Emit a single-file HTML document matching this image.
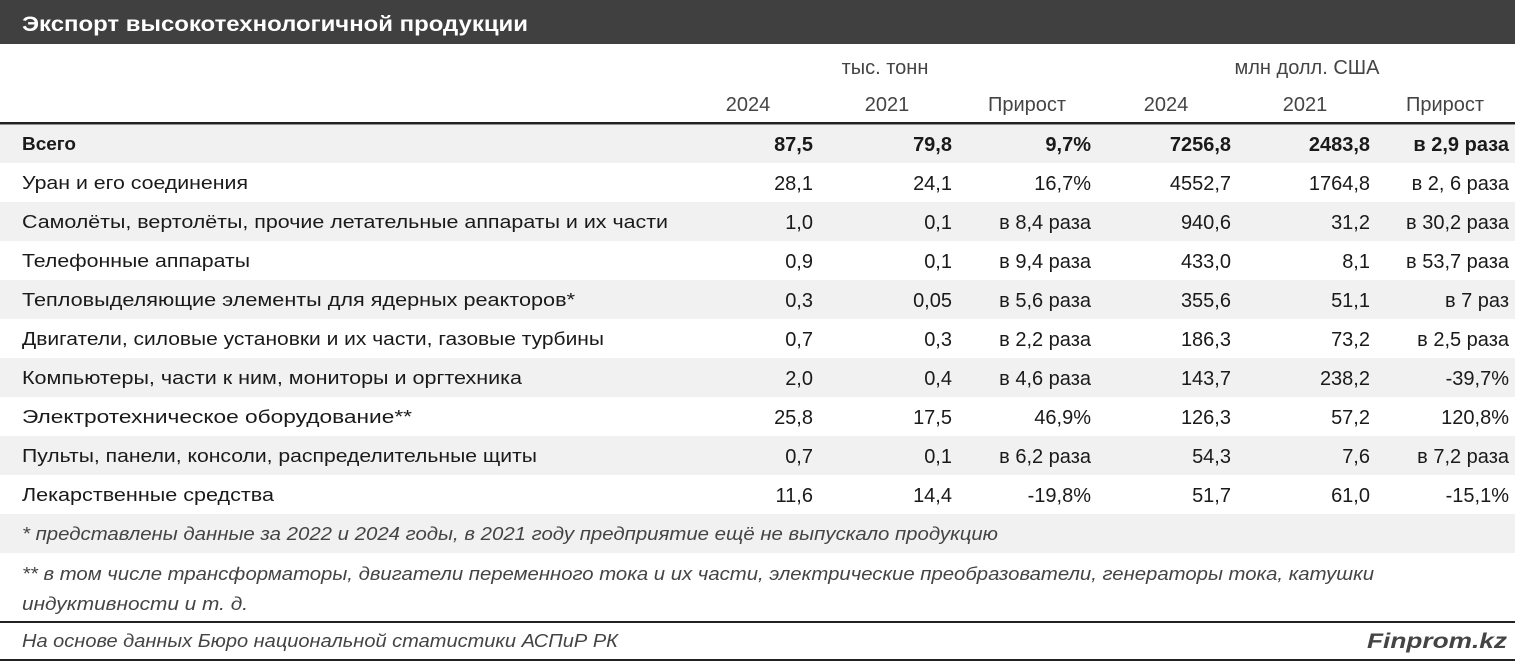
<!DOCTYPE html>
<html><head><meta charset="utf-8"><style>
html,body{margin:0;padding:0;background:#fff}
svg{display:block}
text{font-family:"Liberation Sans",sans-serif;font-size:20px;fill:#1a1a1a}
.b{font-weight:bold}
.i{font-style:italic;fill:#444;font-size:18px}
.h{fill:#444}
.r{text-anchor:end}
.c{text-anchor:middle}
.l{font-size:18px}
</style></head><body>
<svg width="1515" height="662" xmlns="http://www.w3.org/2000/svg">
<rect x="0" y="0" width="1515" height="44" fill="#404040"/>
<text x="22" y="31" style="font-size:21px;font-weight:bold;fill:#fff" textLength="506" lengthAdjust="spacingAndGlyphs">Экспорт высокотехнологичной продукции</text>
<text class="h c" x="885" y="74">тыс. тонн</text>
<text class="h c" x="1307" y="74">млн долл. США</text>
<text class="h c" x="748" y="111">2024</text>
<text class="h c" x="887" y="111">2021</text>
<text class="h c" x="1027" y="111">Прирост</text>
<text class="h c" x="1166" y="111">2024</text>
<text class="h c" x="1305" y="111">2021</text>
<text class="h c" x="1445" y="111">Прирост</text>
<rect x="0" y="122" width="1515" height="2.5" fill="#222"/>
<rect x="0" y="125" width="1515" height="38" fill="#f1f1f1"/>
<rect x="0" y="202" width="1515" height="39" fill="#f1f1f1"/>
<rect x="0" y="280" width="1515" height="39" fill="#f1f1f1"/>
<rect x="0" y="358" width="1515" height="39" fill="#f1f1f1"/>
<rect x="0" y="436" width="1515" height="39" fill="#f1f1f1"/>
<rect x="0" y="514" width="1515" height="39" fill="#f1f1f1"/>
<g>
<text class="b l" x="22" y="150" textLength="54" lengthAdjust="spacingAndGlyphs">Всего</text>
<text class="b r" x="813" y="151">87,5</text><text class="b r" x="952" y="151">79,8</text><text class="b r" x="1091" y="151">9,7%</text><text class="b r" x="1231" y="151">7256,8</text><text class="b r" x="1370" y="151">2483,8</text><text class="b r" x="1509" y="151">в 2,9 раза</text>

<text class="l" x="22" y="189" textLength="226" lengthAdjust="spacingAndGlyphs">Уран и его соединения</text>
<text class="r" x="813" y="190">28,1</text><text class="r" x="952" y="190">24,1</text><text class="r" x="1091" y="190">16,7%</text><text class="r" x="1231" y="190">4552,7</text><text class="r" x="1370" y="190">1764,8</text><text class="r" x="1509" y="190">в 2, 6 раза</text>

<text class="l" x="22" y="228" textLength="646" lengthAdjust="spacingAndGlyphs">Самолёты, вертолёты, прочие летательные аппараты и их части</text>
<text class="r" x="813" y="229">1,0</text><text class="r" x="952" y="229">0,1</text><text class="r" x="1091" y="229">в 8,4 раза</text><text class="r" x="1231" y="229">940,6</text><text class="r" x="1370" y="229">31,2</text><text class="r" x="1509" y="229">в 30,2 раза</text>

<text class="l" x="22" y="267" textLength="228" lengthAdjust="spacingAndGlyphs">Телефонные аппараты</text>
<text class="r" x="813" y="268">0,9</text><text class="r" x="952" y="268">0,1</text><text class="r" x="1091" y="268">в 9,4 раза</text><text class="r" x="1231" y="268">433,0</text><text class="r" x="1370" y="268">8,1</text><text class="r" x="1509" y="268">в 53,7 раза</text>

<text class="l" x="22" y="306" textLength="553" lengthAdjust="spacingAndGlyphs">Тепловыделяющие элементы для ядерных реакторов*</text>
<text class="r" x="813" y="307">0,3</text><text class="r" x="952" y="307">0,05</text><text class="r" x="1091" y="307">в 5,6 раза</text><text class="r" x="1231" y="307">355,6</text><text class="r" x="1370" y="307">51,1</text><text class="r" x="1509" y="307">в 7 раз</text>

<text class="l" x="22" y="345" textLength="582" lengthAdjust="spacingAndGlyphs">Двигатели, силовые установки и их части, газовые турбины</text>
<text class="r" x="813" y="346">0,7</text><text class="r" x="952" y="346">0,3</text><text class="r" x="1091" y="346">в 2,2 раза</text><text class="r" x="1231" y="346">186,3</text><text class="r" x="1370" y="346">73,2</text><text class="r" x="1509" y="346">в 2,5 раза</text>

<text class="l" x="22" y="384" textLength="500" lengthAdjust="spacingAndGlyphs">Компьютеры, части к ним, мониторы и оргтехника</text>
<text class="r" x="813" y="385">2,0</text><text class="r" x="952" y="385">0,4</text><text class="r" x="1091" y="385">в 4,6 раза</text><text class="r" x="1231" y="385">143,7</text><text class="r" x="1370" y="385">238,2</text><text class="r" x="1509" y="385">-39,7%</text>

<text class="l" x="22" y="423" textLength="390" lengthAdjust="spacingAndGlyphs">Электротехническое оборудование**</text>
<text class="r" x="813" y="424">25,8</text><text class="r" x="952" y="424">17,5</text><text class="r" x="1091" y="424">46,9%</text><text class="r" x="1231" y="424">126,3</text><text class="r" x="1370" y="424">57,2</text><text class="r" x="1509" y="424">120,8%</text>

<text class="l" x="22" y="462" textLength="515" lengthAdjust="spacingAndGlyphs">Пульты, панели, консоли, распределительные щиты</text>
<text class="r" x="813" y="463">0,7</text><text class="r" x="952" y="463">0,1</text><text class="r" x="1091" y="463">в 6,2 раза</text><text class="r" x="1231" y="463">54,3</text><text class="r" x="1370" y="463">7,6</text><text class="r" x="1509" y="463">в 7,2 раза</text>

<text class="l" x="22" y="501" textLength="252" lengthAdjust="spacingAndGlyphs">Лекарственные средства</text>
<text class="r" x="813" y="502">11,6</text><text class="r" x="952" y="502">14,4</text><text class="r" x="1091" y="502">-19,8%</text><text class="r" x="1231" y="502">51,7</text><text class="r" x="1370" y="502">61,0</text><text class="r" x="1509" y="502">-15,1%</text>

<text class="i" x="22" y="540" textLength="976" lengthAdjust="spacingAndGlyphs">* представлены данные за 2022 и 2024 годы, в 2021 году предприятие ещё не выпускало продукцию</text>
<text class="i" x="22" y="580" textLength="1352" lengthAdjust="spacingAndGlyphs">** в том числе трансформаторы, двигатели переменного тока и их части, электрические преобразователи, генераторы тока, катушки</text>
<text class="i" x="22" y="610" textLength="226" lengthAdjust="spacingAndGlyphs">индуктивности и т. д.</text>
</g>
<rect x="0" y="621" width="1515" height="2" fill="#222"/>
<text class="i" x="22" y="647" textLength="596" lengthAdjust="spacingAndGlyphs">На основе данных Бюро национальной статистики АСПиР РК</text>
<text x="1507" y="648" class="r" style="font-size:21px;font-weight:bold;font-style:italic;fill:#444" textLength="140" lengthAdjust="spacingAndGlyphs">Finprom.kz</text>
<rect x="0" y="659" width="1515" height="2" fill="#222"/>
</svg>
</body></html>
